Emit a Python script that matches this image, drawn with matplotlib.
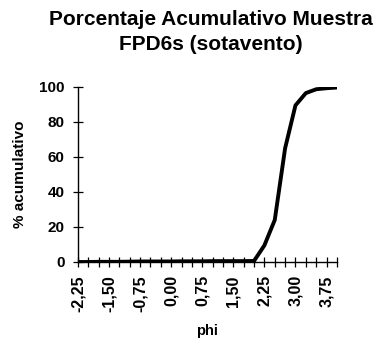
import numpy as np
import matplotlib
matplotlib.use("Agg")
import matplotlib.pyplot as plt

# phi classes (0.25 step) and cumulative percentage
phi = [-2.25, -2.00, -1.75, -1.50, -1.25, -1.00, -0.75, -0.50, -0.25, 0.00,
       0.25, 0.50, 0.75, 1.00, 1.25, 1.50, 1.75, 2.00, 2.25, 2.50,
       2.75, 3.00, 3.25, 3.50, 3.75, 4.00]
cum_pct = [0.0, 0.0, 0.1, 0.1, 0.1, 0.2, 0.3, 0.3, 0.3, 0.3,
           0.4, 0.4, 0.4, 0.5, 0.5, 0.5, 0.5, 0.6, 9.5, 24.0,
           65.0, 89.5, 96.5, 98.7, 99.3, 99.7]
label_phi = [-2.25, -1.50, -0.75, 0.00, 0.75, 1.50, 2.25, 3.00, 3.75]

plt.rcParams['font.family'] = ['Liberation Sans', 'DejaVu Sans']

fig = plt.figure(figsize=(3.76, 3.46), dpi=100)
ax = fig.add_axes([0.2074, 0.2428, 0.6886, 0.5058])

ax.plot(phi, cum_pct, color='black', linewidth=2.8, solid_joinstyle='round',
        solid_capstyle='round')

ax.set_xlim(phi[0], phi[-1])
ax.set_ylim(0, 100)

for s in ('top', 'right'):
    ax.spines[s].set_visible(False)
for s in ('left', 'bottom'):
    ax.spines[s].set_linewidth(1.0)

ax.set_xticks(phi, minor=True)
ax.set_xticks(label_phi)
ax.set_xticklabels([f"{v:.2f}".replace('.', ',') for v in label_phi],
                   rotation=90, fontsize=11.5, fontweight='bold')
ax.tick_params(axis='x', which='both', direction='inout', length=7, width=0.9,
               pad=6)
ax.set_yticks([0, 20, 40, 60, 80, 100])
ax.set_yticklabels(['0', '20', '40', '60', '80', '100'], fontsize=11,
                   fontweight='bold')
ax.tick_params(axis='y', direction='inout', length=7, width=0.9, pad=6)

ax.set_xlabel('phi', fontsize=10.5, fontweight='bold', labelpad=9)
ax.set_ylabel('% acumulativo', fontsize=11, fontweight='bold', labelpad=9)

fig.text(0.56, 0.972, 'Porcentaje Acumulativo Muestra\nFPD6s (sotavento)',
         ha='center', va='top', fontsize=15, fontweight='bold',
         linespacing=1.4)

fig.savefig('out.png', dpi=100)
